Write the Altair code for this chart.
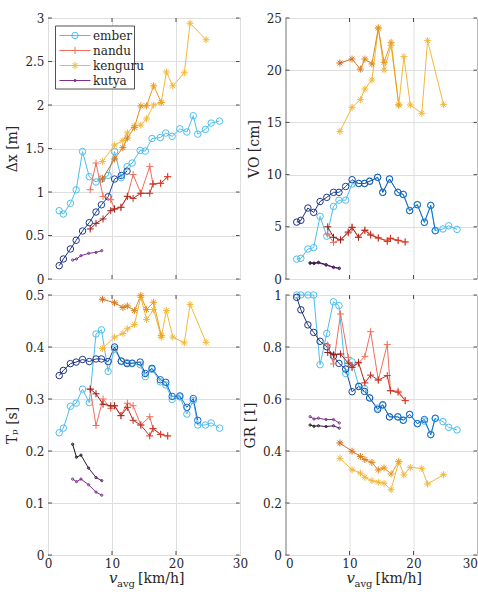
import altair as alt
import pandas as pd

# ---------------- speeds [km/h] ----------------
ember_v = [1.75, 2.4, 3.5, 4.4, 5.4, 6.45, 7.5, 8.35, 9.4, 10.4, 11.45, 12.35, 13.15,
           14.4, 15.2, 16.25, 17.55, 18.4, 19.4, 20.6, 21.7, 22.7, 23.4, 24.6, 25.5, 26.8]
nandu_v = [6.6, 7.5, 8.6, 9.8, 10.4, 11.4, 12.4, 13.3, 14.5, 15.9, 16.4, 17.6, 18.7]
kenguru_v = [8.5, 10.4, 11.7, 12.4, 13.5, 14.5, 15.4, 16.5, 17.7, 18.5, 19.5, 21.3, 22.2, 24.7]
kutya_v = [3.85, 4.45, 5.15, 6.35, 7.5, 8.4]

# ---------------- step length dx [m] ----------------
ember_dx_a = [0.785, 0.747, 0.870, 1.025, 1.465, 1.176, 1.115, 1.150, 1.190, 1.465, 1.165, 1.290, 1.333,
              1.478, 1.470, 1.615, 1.626, 1.678, 1.640, 1.726, 1.690, 1.877, 1.665, 1.720, 1.792, 1.815]
ember_dx_b = [0.153, 0.230, 0.345, 0.445, 0.552, 0.648, 0.770, 0.853, 0.945, 1.149, 1.190, 1.240]
nandu_dx_a = [1.027, 1.333, 0.950, 0.912, 0.805, 0.824, 0.950, 1.200, 0.985, 1.295, 1.092, 1.100, 1.176]
nandu_dx_b = [0.575, 0.640, 0.690, 0.785, 0.805, 0.824, 0.950, 0.927, 0.985, 0.985, 1.092, 1.100, 1.176]
kenguru_dx_a = [1.35, 1.54, 1.59, 1.68, 1.76, 1.77, 1.84, 2.00, 2.03, 2.38, 2.22, 2.37, 2.94, 2.75]
kenguru_dx_b = [1.15, 1.38, 1.51, 1.62, 1.74, 1.99, 1.99, 2.22, 2.03]
kutya_dx_a = [0.218, 0.230, 0.268, 0.295, 0.306, 0.326]

# ---------------- vertical oscillation VO [cm] ----------------
ember_vo_a = [1.90, 1.98, 2.87, 3.00, 6.00, 4.10, 6.95, 7.55, 7.55, 9.10, 9.15, 9.15, 9.40,
              9.74, 8.30, 9.58, 8.30, 8.10, 6.55, 7.12, 5.43, 7.05, 4.63, 4.79, 5.10, 4.75]
ember_vo_b = [5.45, 5.62, 6.80, 6.38, 7.42, 7.82, 8.30, 8.30, 8.86, 9.51, 9.15, 9.15, 9.35,
              9.74, 8.30, 9.58, 8.30, 8.10, 6.55, 7.12, 5.43, 7.05, 4.63]
nandu_vo_a = [4.30, 3.50, 3.75, 4.40, 4.95, 4.00, 4.70, 4.30, 3.90, 3.70, 3.90, 3.70, 3.55]
nandu_vo_b = [5.00, 4.00, 3.75, 4.50, 4.95, 4.00, 4.65, 4.20, 3.95, 3.60, 3.90, 3.70, 3.55]
kenguru_vo_a = [14.14, 16.44, 17.18, 18.20, 19.06, 24.04, 20.02, 22.35, 16.67, 21.30, 16.67, 15.87, 22.83, 16.70]
kenguru_vo_b = [20.69, 21.07, 20.10, 21.07, 20.60, 24.04, 20.76, 22.67, 16.67]
kutya_vo_a = [1.50, 1.48, 1.55, 1.32, 1.10, 1.00]
kutya_vo_b = [1.55, 1.52, 1.60, 1.38, 1.14, 1.04]

# ---------------- period Tp [s] ----------------
ember_tp_a = [0.235, 0.244, 0.286, 0.292, 0.319, 0.293, 0.425, 0.433, 0.353, 0.396, 0.372, 0.370, 0.368,
              0.366, 0.343, 0.357, 0.333, 0.327, 0.299, 0.304, 0.271, 0.297, 0.250, 0.250, 0.254, 0.244]
ember_tp_b = [0.345, 0.355, 0.368, 0.371, 0.376, 0.372, 0.377, 0.377, 0.372, 0.400, 0.373, 0.368, 0.369,
              0.371, 0.349, 0.359, 0.337, 0.332, 0.305, 0.306, 0.284, 0.301, 0.259]
nandu_tp_a = [0.319, 0.249, 0.300, 0.282, 0.287, 0.268, 0.292, 0.287, 0.250, 0.266, 0.243, 0.232, 0.229]
nandu_tp_b = [0.319, 0.310, 0.290, 0.287, 0.287, 0.268, 0.284, 0.259, 0.250, 0.229, 0.243, 0.232, 0.229]
kenguru_tp_a = [0.397, 0.419, 0.426, 0.435, 0.443, 0.496, 0.453, 0.472, 0.419, 0.470, 0.419, 0.408, 0.482, 0.409]
kenguru_tp_b = [0.492, 0.485, 0.476, 0.479, 0.470, 0.499, 0.472, 0.486, 0.422]
kutya_tp_a = [0.146, 0.141, 0.146, 0.135, 0.121, 0.115]
kutya_tp_b = [0.213, 0.188, 0.192, 0.167, 0.149, 0.143]

# ---------------- ratio GR [1] ----------------
ember_gr_a = [1.0, 1.0, 1.0, 1.0, 0.732, 0.852, 0.974, 0.959, 0.698, 0.743, 0.650, 0.640, 0.604,
              0.565, 0.575, 0.532, 0.532, 0.519, 0.540, 0.506, 0.515, 0.463, 0.525, 0.513, 0.491, 0.481]
ember_gr_b = [0.991, 0.943, 0.885, 0.856, 0.822, 0.801, 0.765, 0.737, 0.715, 0.628, 0.648, 0.629, 0.604,
              0.560, 0.578, 0.531, 0.531, 0.518, 0.541, 0.505, 0.521, 0.463, 0.526]
nandu_gr_a = [0.808, 0.735, 0.927, 0.760, 0.722, 0.738, 0.764, 0.859, 0.673, 0.810, 0.632, 0.630, 0.594]
nandu_gr_b = [0.779, 0.770, 0.773, 0.738, 0.722, 0.741, 0.662, 0.692, 0.673, 0.690, 0.632, 0.626, 0.594]
kenguru_gr_a = [0.372, 0.328, 0.315, 0.299, 0.286, 0.280, 0.276, 0.251, 0.359, 0.308, 0.337, 0.333, 0.273, 0.309]
kenguru_gr_b = [0.431, 0.399, 0.379, 0.367, 0.356, 0.327, 0.335, 0.312, 0.359]
kutya_gr_a = [0.532, 0.523, 0.526, 0.521, 0.521, 0.508]
kutya_gr_b = [0.500, 0.495, 0.497, 0.494, 0.497, 0.488]

animals = ["ember", "nandu", "kenguru", "kutya"]
speeds = {"ember": ember_v, "nandu": nandu_v, "kenguru": kenguru_v, "kutya": kutya_v}
values = {
    "dx": {"ember": (ember_dx_a, ember_dx_b), "nandu": (nandu_dx_a, nandu_dx_b),
           "kenguru": (kenguru_dx_a, kenguru_dx_b), "kutya": (kutya_dx_a, [])},
    "vo": {"ember": (ember_vo_a, ember_vo_b), "nandu": (nandu_vo_a, nandu_vo_b),
           "kenguru": (kenguru_vo_a, kenguru_vo_b), "kutya": (kutya_vo_a, kutya_vo_b)},
    "tp": {"ember": (ember_tp_a, ember_tp_b), "nandu": (nandu_tp_a, nandu_tp_b),
           "kenguru": (kenguru_tp_a, kenguru_tp_b), "kutya": (kutya_tp_a, kutya_tp_b)},
    "gr": {"ember": (ember_gr_a, ember_gr_b), "nandu": (nandu_gr_a, nandu_gr_b),
           "kenguru": (kenguru_gr_a, kenguru_gr_b), "kutya": (kutya_gr_a, kutya_gr_b)},
}

# ---------------- styling ----------------
PLUS = "M-1,0L1,0M0,-1L0,1"
STAR = "M-1,0L1,0M0,-1L0,1M-0.7,-0.7L0.7,0.7M-0.7,0.7L0.7,-0.7"
light_col = {"ember": "#4DBEEE", "nandu": "#F06E5A", "kenguru": "#F2B83A", "kutya": "#7E2F8E"}
dark_grad = {"ember": ("#1F2D7A", "#1270D8"), "nandu": ("#8E1B1B", "#E03A28"),
             "kenguru": ("#CF6A1A", "#F0A21E"), "kutya": ("#151515", "#4E2260")}
shape = {"ember": "circle", "nandu": PLUS, "kenguru": STAR, "kutya": "circle"}
msize = {"ember": 42, "nandu": 49, "kenguru": 49, "kutya": 5}
FONT = "DejaVu Serif"
INK = "#262626"


def mix(c0, c1, t):
    t = min(max(t, 0.0), 1.0)
    a = [int(c0[i:i + 2], 16) for i in (1, 3, 5)]
    b = [int(c1[i:i + 2], 16) for i in (1, 3, 5)]
    return "#%02x%02x%02x" % tuple(round(a[k] + (b[k] - a[k]) * t) for k in range(3))


def series_frames(metric, animal):
    """Segments and markers of one animal: the light series, then the shaded one."""
    v = speeds[animal]
    ya, yb = values[metric][animal]
    nb = max(len(values[m][animal][1]) for m in values)
    vmin, vmax = v[0], v[nb - 1]
    segs, pts = [], []
    for which, ys in (("a", ya), ("b", yb)):
        xs = v[:len(ys)]
        for i, (x, y) in enumerate(zip(xs, ys)):
            if which == "a":
                col = light_col[animal]
            else:
                col = mix(*dark_grad[animal], (x - vmin) / (vmax - vmin))
            pts.append(dict(x=x, y=y, col=col, shape=shape[animal], sz=msize[animal]))
            if i + 1 < len(ys):
                if which == "a":
                    scol = light_col[animal]
                else:
                    xm = 0.5 * (x + xs[i + 1])
                    scol = mix(*dark_grad[animal], (xm - vmin) / (vmax - vmin))
                segs.append(dict(x=x, y=y, x2=xs[i + 1], y2=ys[i + 1], col=scol))
    return pd.DataFrame(segs), pd.DataFrame(pts)


W = 192
X_TICKS = [0, 10, 20, 30]


def panel(metric, ymax, ystep, ytitle, height, bottom, legend=False, right=False):
    xs = alt.Scale(domain=[0, 30], nice=False, zero=False)
    ys = alt.Scale(domain=[0, ymax], nice=False, zero=False)
    n = int(round(ymax / ystep))
    y_ticks = [round(i * ystep, 6) for i in range(n + 1)]

    # right-hand column: keep the end labels inside the page edge
    xaxis = alt.Axis(values=X_TICKS, labels=bottom, title=None, grid=True, ticks=False,
                     domain=False, format="d", labelPadding=3, labelFlush=right)
    yaxis = alt.Axis(values=y_ticks, title=ytitle, grid=True, ticks=False, domain=False,
                     format="~g", labelPadding=4, titlePadding=5)
    X = lambda f: alt.X(f, scale=xs, axis=xaxis)
    Y = lambda f: alt.Y(f, scale=ys, axis=yaxis)

    # inward tick marks on all four sides of the box
    ytick_df = pd.DataFrame({"y": y_ticks})
    xtick_df = pd.DataFrame({"x": X_TICKS[1:-1]})
    layers = [
        alt.Chart(ytick_df).mark_rule(color=INK, strokeWidth=0.8).encode(
            y=Y("y:Q"), x=alt.value(0), x2=alt.value(4)),
        alt.Chart(ytick_df).mark_rule(color=INK, strokeWidth=0.8).encode(
            y=Y("y:Q"), x=alt.value(W - 4), x2=alt.value(W - 0.5)),
        alt.Chart(xtick_df).mark_rule(color=INK, strokeWidth=0.8).encode(
            x=X("x:Q"), y=alt.value(height - 4), y2=alt.value(height)),
        alt.Chart(xtick_df).mark_rule(color=INK, strokeWidth=0.8).encode(
            x=X("x:Q"), y=alt.value(0), y2=alt.value(4)),
    ]

    for animal in animals:
        segs, pts = series_frames(metric, animal)
        layers.append(
            alt.Chart(segs).mark_rule(strokeWidth=1).encode(
                x=X("x:Q"), y=Y("y:Q"), x2="x2:Q", y2="y2:Q",
                color=alt.Color("col:N", scale=None),
            )
        )
        layers.append(
            alt.Chart(pts).mark_point(filled=False, strokeWidth=1, opacity=1).encode(
                x=X("x:Q"), y=Y("y:Q"),
                color=alt.Color("col:N", scale=None),
                shape=alt.Shape("shape:N", scale=None),
                size=alt.Size("sz:Q", scale=None),
            )
        )

    if bottom:
        # x-axis title: v with "avg" subscript, then the unit
        one = pd.DataFrame({"k": [0]})
        layers += [
            alt.Chart(one).mark_text(text="v", font=FONT, fontSize=15, fontStyle="italic",
                                     align="left", baseline="alphabetic", color=INK).encode(
                x=alt.value(61), y=alt.value(height + 28)),
            alt.Chart(one).mark_text(text="avg", font=FONT, fontSize=10, align="left",
                                     baseline="alphabetic", color=INK).encode(
                x=alt.value(69), y=alt.value(height + 32)),
            alt.Chart(one).mark_text(text="[km/h]", font=FONT, fontSize=14, align="left",
                                     baseline="alphabetic", color=INK).encode(
                x=alt.value(90), y=alt.value(height + 28)),
        ]

    if legend:
        one = pd.DataFrame({"k": [0]})
        layers.append(
            alt.Chart(one).mark_rect(fill="white", stroke=INK, strokeWidth=0.8).encode(
                x=alt.value(7.5), x2=alt.value(86.5), y=alt.value(8), y2=alt.value(71)))
        for i, animal in enumerate(animals):
            yy = 17.5 + 15 * i
            layers += [
                alt.Chart(one).mark_rule(color=light_col[animal], strokeWidth=1).encode(
                    x=alt.value(11.5), x2=alt.value(42.5), y=alt.value(yy)),
                alt.Chart(one).mark_point(filled=False, strokeWidth=1, opacity=1,
                                          color=light_col[animal], shape=shape[animal],
                                          size=msize[animal]).encode(
                    x=alt.value(27), y=alt.value(yy)),
                alt.Chart(pd.DataFrame({"label": [animal]})).mark_text(
                    font=FONT, fontSize=12, align="left", baseline="middle", color=INK).encode(
                    text="label:N", x=alt.value(45), y=alt.value(yy)),
            ]

    return alt.layer(*layers).properties(width=W, height=height)


p_dx = panel("dx", 3, 0.5, "Δx [m]", 261, False, legend=True)
p_vo = panel("vo", 25, 5, "VO [cm]", 261, False, right=True)
p_tp = panel("tp", 0.5, 0.1, "Tₚ [s]", 260, True)
p_gr = panel("gr", 1, 0.2, "GR [1]", 260, True, right=True)

chart = alt.concat(
    p_dx, p_vo, p_tp, p_gr, columns=2,
    spacing={"row": 16, "column": 45.5}, bounds="flush",
).properties(
    padding={"left": 5, "top": 11, "right": 0, "bottom": 0},
    background="white",
).configure_view(
    stroke=INK, strokeWidth=1
).configure_axis(
    labelFont=FONT, labelFontSize=12, labelColor=INK,
    titleFont=FONT, titleFontSize=14, titleFontWeight="normal", titleColor=INK,
    gridColor="#dedede", gridWidth=1,
)

chart.save("out.html", embed_options={"renderer": "svg", "actions": False})
